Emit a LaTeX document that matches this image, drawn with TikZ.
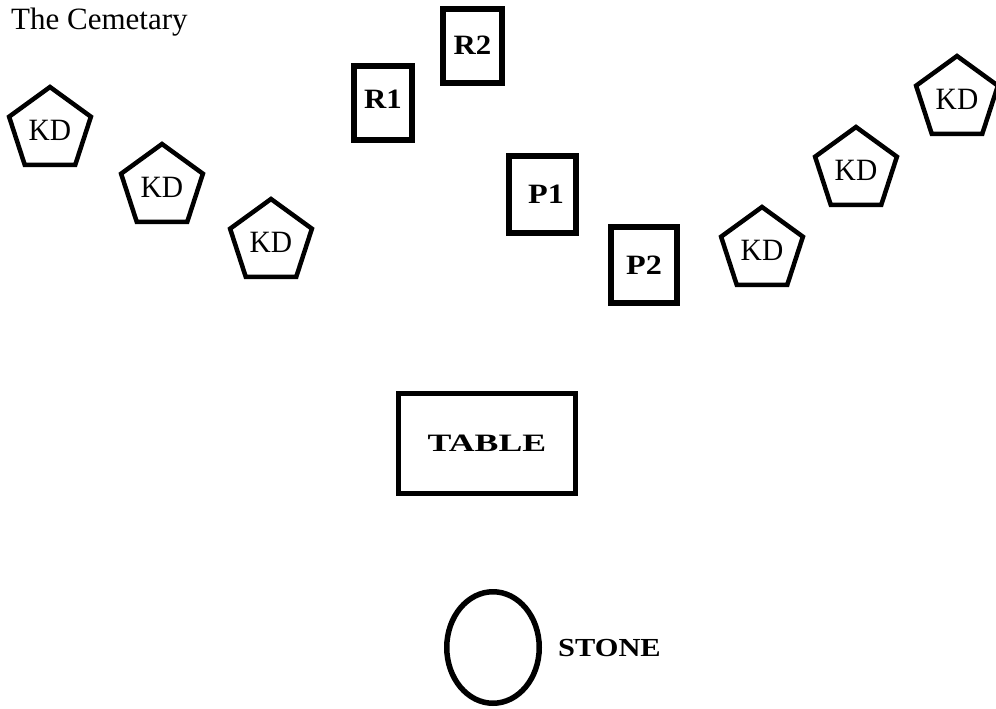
\documentclass[tikz,border=0pt]{standalone}
\usepackage{fontspec}
\setmainfont{Liberation Serif}
\usetikzlibrary{shapes.geometric}
\tikzset{
  kd/.style={draw, line width=4.5pt, regular polygon, regular polygon sides=5,
    minimum size=86pt, inner sep=0pt, font=\fontsize{31}{32}\selectfont},
  seat/.style={draw, line width=6pt, rectangle, inner sep=0pt,
    font=\bfseries\fontsize{28}{29}\selectfont},
  tablebox/.style={draw, line width=5.5pt, rectangle, inner sep=0pt,
    minimum width=177pt, minimum height=100pt,
    font=\bfseries\fontsize{25}{26}\selectfont},
  stonebox/.style={draw, line width=5.5pt, ellipse, inner sep=0pt,
    minimum width=92.5pt, minimum height=111.5pt},
  lbl/.style={inner sep=0pt, font=\bfseries\fontsize{26}{27}\selectfont}
}
\newcommand{\wide}[2]{\scalebox{#1}[1]{#2}}
\begin{document}
\begin{tikzpicture}[x=1pt,y=-1pt]
\useasboundingbox (0,0) rectangle (996,709);
\node[anchor=base west, inner sep=0pt, font=\fontsize{31}{32}\selectfont] (title) at (11,30) {\wide{1.0}{The Cemetary}};
% left KDs
\node[kd] (kd1) at (50,130) {\wide{0.95}{KD}};
\node[kd] (kd2) at (162,187) {\wide{0.95}{KD}};
\node[kd] (kd3) at (271,242) {\wide{0.95}{KD}};
% right KDs
\node[kd] (kd4) at (762,250) {\wide{0.95}{KD}};
\node[kd] (kd5) at (856,170) {\wide{0.95}{KD}};
\node[kd] (kd6) at (957,99) {\wide{0.95}{KD}};
% seats
\node[seat, minimum width=58pt, minimum height=74pt] (r1) at (383,103) {\raisebox{7pt}{\wide{1.1}{R1}}};
\node[seat, minimum width=59pt, minimum height=74pt] (r2) at (472.5,46) {\raisebox{2pt}{\wide{1.1}{R2}}};
\node[seat, minimum width=67pt, minimum height=77pt] (p1) at (542.5,194.5) {\hspace*{7pt}\raisebox{-3pt}{\wide{1.15}{P1}}};
\node[seat, minimum width=66pt, minimum height=76pt] (p2) at (644,265) {\wide{1.15}{P2}};
% table
\node[tablebox] (table) at (487,443.5) {\wide{1.43}{TABLE}};
% stone
\node[stonebox] (stone) at (493,647.5) {};
\node[lbl, anchor=west] (stonelbl) at (558,648.5) {\wide{1.17}{STONE}};
\end{tikzpicture}
\end{document}
